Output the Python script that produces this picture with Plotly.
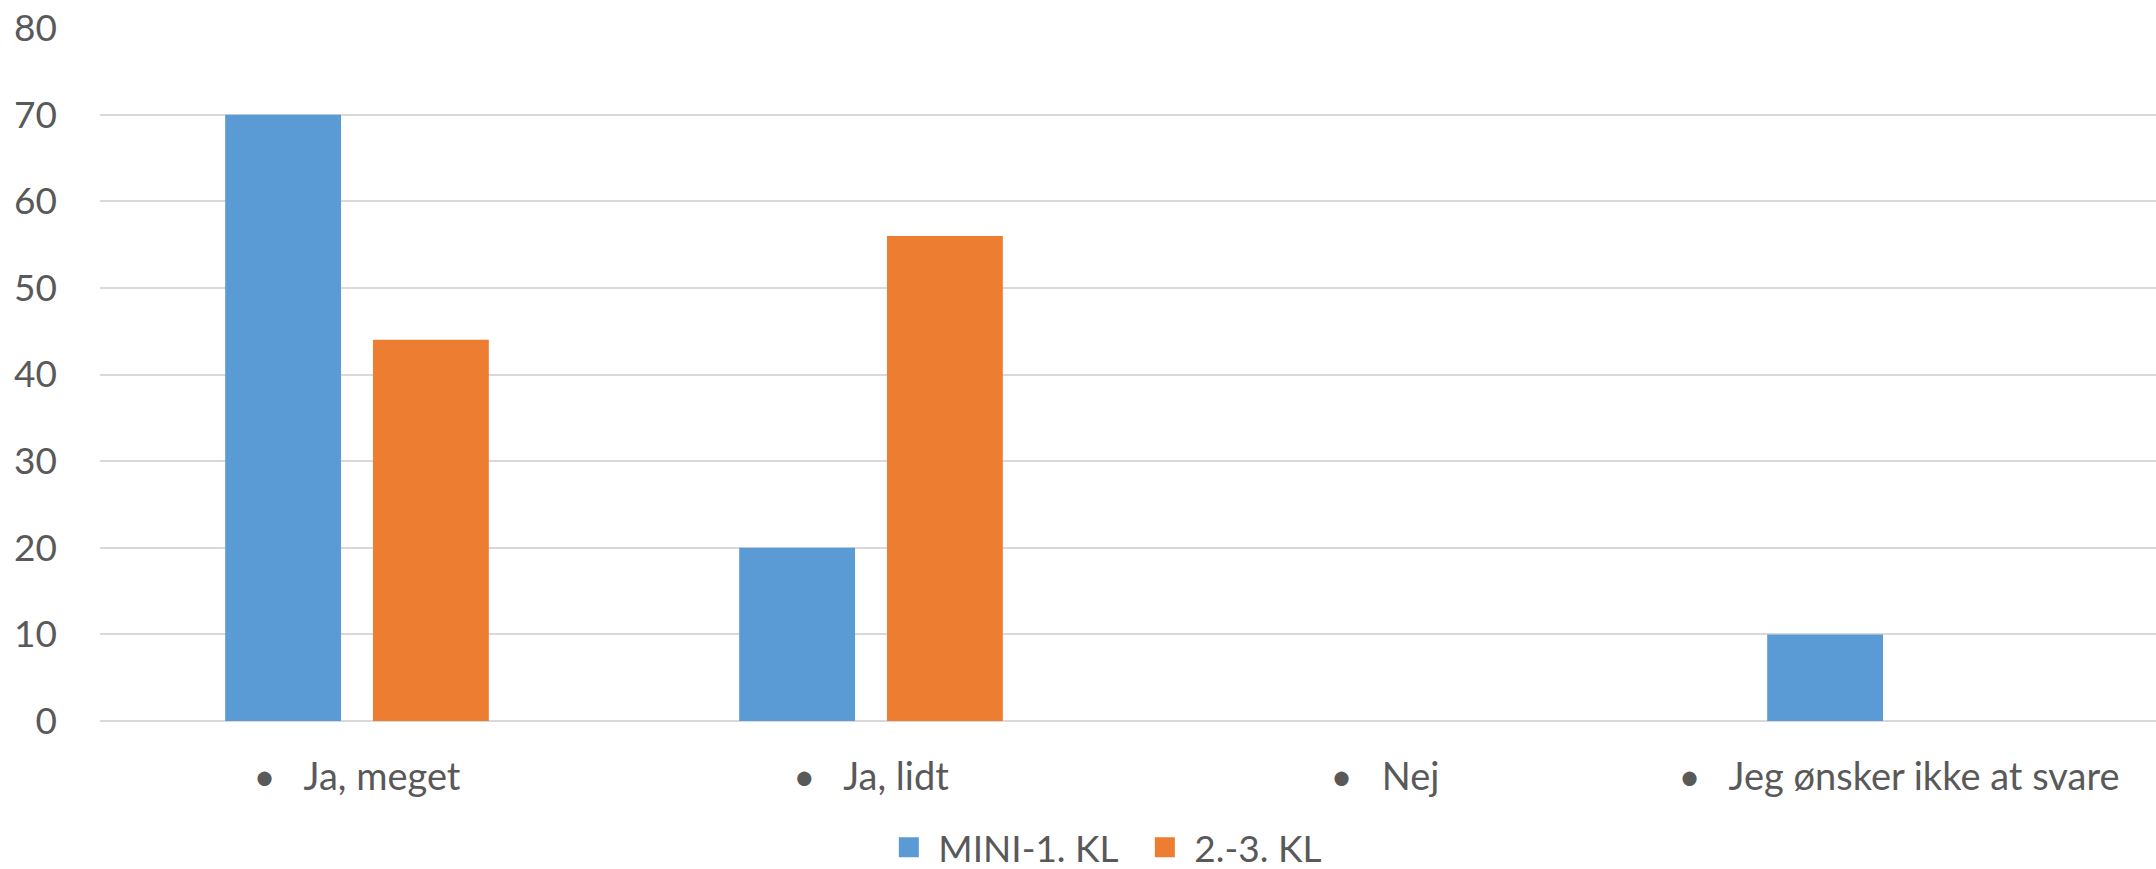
import plotly.graph_objects as go

categories = ["Ja, meget", "Ja, lidt", "Nej", "Jeg ønsker ikke at svare"]
series_names = ["MINI-1. KL", "2.-3. KL"]
mini_values = [70, 20, 0, 10]
kl23_values = [44, 56, 0, 0]
colors = ["#5B9BD5", "#ED7D31"]
y_ticks = [0, 10, 20, 30, 40, 50, 60, 70, 80]

tick_text = ["•   " + c for c in categories]
NB = "\u00a0"
legend_names = [NB + n for n in series_names]

fig = go.Figure()
for name, vals, col in zip(series_names, [mini_values, kl23_values], colors):
    fig.add_trace(go.Bar(x=categories, y=vals, name=name, showlegend=False,
                         marker=dict(color=col, line=dict(width=0))))
for name, col in zip(legend_names, colors):
    fig.add_trace(go.Scatter(x=[None], y=[None], mode="markers", name=name,
                             marker=dict(symbol="square", size=16, color=col,
                                         line=dict(width=4, color=col))))

font_family = "Lato, 'Open Sans', sans-serif"
fig.update_layout(
    width=2156, height=869,
    margin=dict(l=100, r=0, t=28, b=148, autoexpand=False),
    paper_bgcolor="white", plot_bgcolor="white",
    barmode="group", bargap=0.425, bargroupgap=0.216,
    font=dict(family=font_family, size=37, color="#595959"),
    showlegend=True,
    legend=dict(orientation="h", xref="container", x=0.531, xanchor="center",
                yref="paper", y=-0.183, yanchor="middle",
                font=dict(size=37, color="#595959"), itemwidth=30,
                entrywidth=211, entrywidthmode="pixels",
                traceorder="normal"),
    xaxis=dict(tickvals=categories, ticktext=tick_text, showgrid=False, showline=False,
               ticks="", ticklabelstandoff=30, tickfont=dict(size=38, color="#595959")),
    yaxis=dict(range=[0, 80], tickvals=y_ticks, showgrid=True, gridcolor="#D9D9D9", gridwidth=1.5,
               zeroline=True, zerolinecolor="#D9D9D9", zerolinewidth=1.5, showline=False,
               ticks="", ticklabelstandoff=42, tickfont=dict(size=37, color="#595959")),
)
fig.write_html("out.html", config={"displayModeBar": False},
               post_script="document.body.style.margin='0';document.body.style.overflow='hidden';")
